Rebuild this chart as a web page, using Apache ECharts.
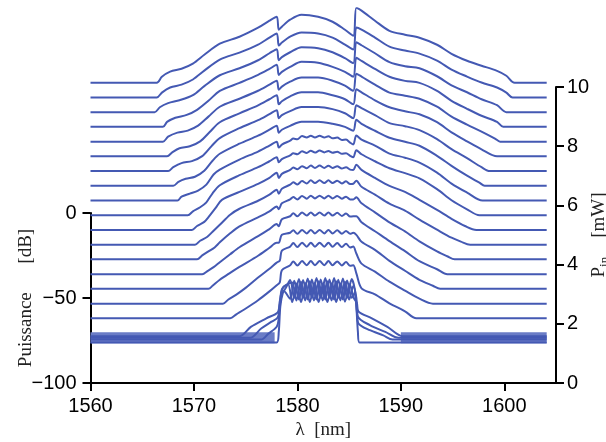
<!DOCTYPE html>
<html><head><meta charset="utf-8">
<script src="https://cdn.jsdelivr.net/npm/echarts@6/dist/echarts.min.js"></script>
<style>html,body{margin:0;padding:0;background:#fff}#c{width:606px;height:442px}</style>
</head><body><div id="c"></div>
<script>
// ---- tick labels ----
const xTicks = [1560, 1570, 1580, 1590, 1600];
const dbTicks = [-100, -50, 0];
const pinTicks = [0, 2, 4, 6, 8, 10];

// ---- baseline (floor) level of each offset spectrum, dB on left scale (bottom -> top) ----
const traceFloors = [-62.0, -53.4, -44.7, -36.1, -27.4, -18.8, -10.1, -1.5, 7.1, 15.8, 24.4, 33.1, 41.7, 50.4, 59.0, 67.6, 76.3];

// ---- spectra shapes: [wavelength nm, dB above own floor] ----
const spec0 = [[1560,0],[1573.5,0],[1574.1,2.3],[1574.9,5.3],[1576.2,10.6],[1577.3,15.8],[1578.0,19.4],[1578.3,21.1],[1578.5,28.2],[1579.3,31.1],[1579.6,33.4],[1580.0,31.0],[1580.45,33.6],[1580.9,31.2],[1581.3,33.6],[1581.7,31.2],[1582.15,33.6],[1582.6,31.2],[1583.0,33.6],[1583.4,31.2],[1583.85,33.4],[1584.3,31.0],[1584.7,33.0],[1585.1,30.8],[1585.4,31.1],[1585.7,26.4],[1586.2,17.6],[1587.5,14.1],[1588.9,8.8],[1590.4,4.1],[1591.5,0],[1604.1,0]];
const spec1 = [[1560,0],[1572.8,0],[1573.3,2.3],[1574.1,5.3],[1574.9,8.8],[1576.2,15.3],[1577.3,20.5],[1578.0,24.1],[1578.3,25.2],[1578.5,31.1],[1579.3,33.5],[1579.6,35.6],[1580.0,33.2],[1580.45,35.8],[1580.9,33.4],[1581.3,35.8],[1581.7,33.4],[1582.15,35.8],[1582.6,33.4],[1583.0,35.8],[1583.4,33.4],[1583.85,35.6],[1584.3,33.2],[1584.7,35.2],[1585.1,33.0],[1585.4,33.5],[1585.7,29.4],[1586.2,23.5],[1587.5,18.8],[1588.9,12.9],[1590.4,7.6],[1591.8,2.9],[1593.1,0],[1604.1,0]];
const spec2 = [[1560,0],[1571.4,0],[1571.8,1.8],[1572.5,5.3],[1573.5,9.4],[1574.4,12.9],[1576.2,19.4],[1577.3,24.1],[1578.0,27.0],[1578.2,27.0],[1578.5,31.7],[1579.3,32.9],[1579.6,34.4],[1580.0,32.3],[1580.45,34.6],[1580.9,32.5],[1581.3,34.6],[1581.7,32.5],[1582.15,34.6],[1582.6,32.5],[1583.0,34.6],[1583.4,32.5],[1583.85,34.4],[1584.3,32.3],[1584.7,34.0],[1585.1,32.3],[1585.4,32.9],[1585.7,31.7],[1586.2,27.6],[1587.5,22.9],[1588.9,16.4],[1590.4,10.6],[1591.8,5.3],[1593.1,1.8],[1593.8,0],[1604.1,0]];
const spec3 = [[1560,0],[1570.8,0],[1571.3,1.8],[1571.9,4.1],[1572.5,7.0],[1573.5,11.7],[1574.4,15.8],[1576.2,22.3],[1577.3,26.4],[1578.0,29.4],[1578.2,28.2],[1578.5,32.3],[1579.3,34.0],[1579.6,35.8],[1580.0,34.0],[1580.45,36.2],[1580.9,34.4],[1581.3,36.2],[1581.7,34.4],[1582.15,36.2],[1582.6,34.4],[1583.0,36.2],[1583.4,34.4],[1583.85,36.0],[1584.3,34.2],[1584.7,35.6],[1585.1,33.8],[1585.4,34.0],[1585.7,34.0],[1586.2,30.5],[1587.5,25.2],[1588.9,19.4],[1590.4,13.5],[1591.8,7.6],[1593.5,2.9],[1594.5,0],[1604.1,0]];
const spec4 = [[1560,0],[1570.3,0],[1570.8,2.3],[1571.4,4.7],[1572.0,7.0],[1572.5,10.0],[1573.5,15.3],[1574.4,19.4],[1576.2,24.7],[1577.3,28.2],[1578.0,31.1],[1578.2,29.4],[1578.5,32.9],[1579.3,35.2],[1579.6,36.6],[1580.0,35.2],[1580.45,37.2],[1580.9,35.6],[1581.3,37.4],[1581.7,35.8],[1582.15,37.4],[1582.6,35.8],[1583.0,37.4],[1583.4,35.8],[1583.85,37.2],[1584.3,35.6],[1584.7,36.8],[1585.1,35.2],[1585.4,35.2],[1585.7,36.4],[1586.2,32.9],[1587.5,27.6],[1588.9,21.7],[1590.4,16.4],[1591.8,10.6],[1593.5,4.7],[1594.5,1.8],[1595.2,0],[1604.1,0]];
const spec5 = [[1560,0],[1570.1,0],[1570.6,2.3],[1571.3,4.7],[1571.9,8.2],[1572.5,11.7],[1573.5,17.6],[1574.4,21.1],[1576.2,25.8],[1577.3,29.4],[1578.0,32.3],[1578.2,29.9],[1578.5,32.9],[1579.3,35.2],[1579.6,36.6],[1580.0,35.4],[1580.45,37.4],[1580.9,36.0],[1581.3,37.8],[1581.7,36.2],[1582.15,37.8],[1582.6,36.2],[1583.0,37.8],[1583.4,36.2],[1583.85,37.6],[1584.3,36.0],[1584.7,37.2],[1585.1,35.6],[1585.4,35.8],[1585.7,37.6],[1586.2,34.0],[1587.5,29.4],[1588.9,24.1],[1590.4,20.0],[1591.8,14.7],[1593.5,8.8],[1594.9,4.1],[1595.8,1.8],[1596.7,0],[1604.1,0]];
const spec6 = [[1560,0],[1569.8,0],[1570.3,2.3],[1571.0,4.7],[1571.5,8.2],[1572.1,12.9],[1572.7,17.6],[1574.4,22.3],[1576.2,27.0],[1577.3,30.5],[1578.0,33.5],[1578.2,30.5],[1578.5,32.9],[1579.3,35.2],[1579.6,36.6],[1580.0,35.6],[1580.45,37.4],[1580.9,36.2],[1581.3,37.8],[1581.7,36.4],[1582.15,37.8],[1582.6,36.4],[1583.0,37.7],[1583.4,36.3],[1583.85,37.4],[1584.3,36.0],[1584.7,36.8],[1585.1,35.4],[1585.4,35.2],[1585.7,38.2],[1586.2,35.2],[1587.5,30.5],[1588.9,25.8],[1590.4,22.3],[1591.8,17.6],[1593.5,11.7],[1594.9,6.5],[1596.2,2.3],[1597.3,0],[1604.1,0]];
const spec7 = [[1560,0],[1569.4,0],[1569.9,2.3],[1570.6,4.7],[1571.2,7.6],[1571.8,12.9],[1572.5,17.6],[1574.4,23.5],[1576.2,28.2],[1577.3,31.7],[1578.0,34.0],[1578.2,31.1],[1578.5,32.9],[1579.3,35.2],[1579.6,36.4],[1580.0,35.8],[1580.45,37.6],[1580.9,36.6],[1581.3,37.9],[1581.7,36.8],[1582.15,38.0],[1582.6,36.9],[1583.0,37.7],[1583.4,36.7],[1583.85,37.3],[1584.3,36.1],[1584.7,36.4],[1585.1,34.9],[1585.4,34.0],[1585.7,38.2],[1586.2,35.8],[1587.5,31.7],[1588.9,27.6],[1590.4,24.7],[1591.8,21.7],[1593.5,15.3],[1594.9,8.8],[1596.4,3.5],[1597.6,0],[1604.1,0]];
const spec8 = [[1560,0],[1568.4,0],[1568.8,2.3],[1569.6,4.1],[1570.4,5.9],[1571.2,9.4],[1571.9,15.3],[1572.5,18.2],[1574.4,24.1],[1576.2,28.8],[1577.3,32.3],[1578.0,34.6],[1578.2,31.1],[1578.5,32.9],[1579.3,35.2],[1579.6,36.4],[1580.0,36.0],[1580.45,37.9],[1580.9,37.1],[1581.3,38.1],[1581.7,37.1],[1582.15,38.1],[1582.6,37.0],[1583.0,37.8],[1583.4,36.6],[1583.85,37.0],[1584.3,35.6],[1584.7,35.8],[1585.1,34.0],[1585.4,32.9],[1585.7,38.2],[1586.2,35.8],[1587.5,32.3],[1588.9,27.6],[1590.4,25.2],[1591.8,22.3],[1593.5,16.4],[1594.9,10.0],[1596.4,4.7],[1597.9,0],[1604.1,0]];
const spec9 = [[1560,0],[1568.0,0],[1568.5,2.3],[1569.2,4.1],[1570.1,5.3],[1571.0,8.8],[1571.8,14.7],[1572.5,18.8],[1574.4,24.7],[1576.2,29.4],[1577.3,32.9],[1578.0,35.2],[1578.2,31.1],[1578.5,32.9],[1579.3,35.2],[1580.4,37.6],[1582.0,37.6],[1583.4,36.4],[1584.6,34.6],[1585.4,32.3],[1585.7,38.7],[1586.2,36.4],[1587.5,32.3],[1588.9,28.2],[1590.4,25.8],[1591.8,23.5],[1593.5,17.6],[1594.9,11.7],[1596.4,5.9],[1597.6,1.8],[1598.1,0],[1604.1,0]];
const spec10 = [[1560,0],[1567.5,0],[1568.0,2.3],[1568.8,4.7],[1569.8,5.9],[1570.8,8.8],[1571.7,14.7],[1572.5,19.4],[1574.4,25.2],[1576.2,29.9],[1577.3,33.5],[1578.0,35.8],[1578.2,31.1],[1578.5,32.9],[1579.3,35.2],[1580.4,37.6],[1582.0,37.6],[1583.4,36.4],[1584.6,34.0],[1585.4,31.1],[1585.7,38.7],[1586.2,37.0],[1587.5,32.9],[1588.9,28.2],[1590.4,26.4],[1591.8,24.1],[1593.5,18.8],[1594.9,12.9],[1596.4,7.6],[1597.8,2.3],[1598.6,0],[1604.1,0]];
const spec11 = [[1560,0],[1567.4,0],[1567.9,2.3],[1568.6,4.7],[1569.6,5.9],[1570.6,8.8],[1571.5,14.1],[1572.5,20.0],[1574.4,25.2],[1576.2,29.9],[1577.3,33.5],[1578.0,35.8],[1578.2,30.5],[1578.5,32.3],[1579.3,35.2],[1580.4,37.6],[1582.0,37.6],[1583.4,35.8],[1584.6,33.5],[1585.4,30.5],[1585.7,39.3],[1586.2,37.6],[1587.5,32.9],[1588.9,28.8],[1590.4,26.4],[1591.8,24.7],[1593.5,20.0],[1594.9,14.1],[1596.4,8.8],[1597.8,4.1],[1599.3,0],[1604.1,0]];
const spec12 = [[1560,0],[1567.0,0],[1567.5,2.9],[1568.4,5.3],[1569.4,6.5],[1570.4,9.4],[1571.4,14.7],[1572.5,20.5],[1574.4,25.2],[1576.2,29.9],[1577.3,33.5],[1578.0,35.8],[1578.2,30.5],[1578.5,32.3],[1579.3,35.2],[1580.4,37.6],[1582.0,37.6],[1583.4,35.8],[1584.6,32.9],[1585.4,29.9],[1585.7,39.9],[1586.2,38.2],[1587.5,33.5],[1588.9,28.8],[1590.4,27.0],[1591.8,25.2],[1593.5,20.5],[1594.9,14.7],[1596.4,10.0],[1597.8,5.9],[1599.1,1.8],[1599.6,0],[1604.1,0]];
const spec13 = [[1560,0],[1567.0,0],[1567.4,2.9],[1568.2,5.3],[1569.3,7.0],[1570.3,10.0],[1571.4,15.3],[1572.5,21.1],[1574.4,25.8],[1576.2,30.5],[1577.3,34.0],[1578.0,36.4],[1578.2,30.5],[1578.5,32.3],[1579.3,35.2],[1580.4,38.2],[1582.0,37.6],[1583.4,35.2],[1584.6,32.3],[1585.4,29.4],[1585.7,40.5],[1586.2,38.7],[1587.5,34.0],[1588.9,29.4],[1590.4,27.0],[1591.8,25.8],[1593.5,21.1],[1594.9,15.3],[1596.4,10.6],[1597.8,6.5],[1599.3,2.9],[1599.9,0],[1604.1,0]];
const spec14 = [[1560,0],[1566.2,0],[1566.7,2.9],[1567.5,5.3],[1568.6,7.0],[1569.9,10.0],[1571.0,15.3],[1572.5,21.7],[1574.4,25.8],[1576.2,30.5],[1577.3,34.6],[1578.0,37.0],[1578.2,30.5],[1578.5,32.3],[1579.3,35.2],[1580.4,38.2],[1582.0,37.6],[1583.4,35.2],[1584.6,31.7],[1585.4,28.8],[1585.7,41.1],[1586.2,39.3],[1587.5,34.6],[1588.9,29.4],[1590.4,27.0],[1591.8,25.8],[1593.5,21.1],[1594.9,15.8],[1596.4,11.7],[1597.8,7.6],[1599.3,4.1],[1600.2,0],[1604.1,0]];
const spec15 = [[1560,0],[1566.4,0],[1566.9,2.9],[1567.7,5.9],[1568.8,7.6],[1569.9,10.6],[1571.0,15.8],[1572.5,22.3],[1574.4,26.4],[1576.2,31.1],[1577.3,35.2],[1578.0,37.6],[1578.2,30.5],[1578.5,32.3],[1579.3,35.8],[1580.4,38.2],[1582.0,37.6],[1583.4,35.2],[1584.6,31.1],[1585.4,28.2],[1585.7,41.1],[1586.2,39.9],[1587.5,35.2],[1588.9,29.9],[1590.4,27.6],[1591.8,25.8],[1593.5,21.7],[1594.9,16.4],[1596.4,12.3],[1597.8,8.8],[1599.3,5.9],[1600.2,2.9],[1600.8,0],[1604.1,0]];
const spec16 = [[1560,0],[1566.4,0],[1566.9,3.5],[1567.7,6.5],[1568.8,8.2],[1569.9,11.2],[1571.0,16.4],[1572.5,22.9],[1574.4,27.0],[1576.2,32.3],[1577.3,36.4],[1578.0,38.7],[1578.2,31.1],[1578.5,32.9],[1579.3,37.0],[1580.4,39.9],[1582.0,38.7],[1583.4,35.8],[1584.6,31.1],[1585.4,27.6],[1585.7,44.0],[1586.2,42.3],[1587.5,36.4],[1588.9,30.5],[1590.4,28.2],[1591.8,26.4],[1593.5,22.3],[1594.9,17.0],[1596.4,12.9],[1597.8,10.0],[1599.3,7.0],[1600.2,4.1],[1601.0,0],[1604.1,0]];
const offsetSpectra = [spec0,spec1,spec2,spec3,spec4,spec5,spec6,spec7,spec8,spec9,spec10,spec11,spec12,spec13,spec14,spec15,spec16];

// ---- low-power spectra (not offset), absolute dB ----
const low0 = [[1560,-76.2],[1578.0,-76.2],[1578.2,-70],[1578.35,-55],[1578.6,-47],[1578.9,-44],[1579.3,-39.5],[1579.7,-50],[1580.15,-39],[1580.55,-50],[1581.0,-38.6],[1581.4,-50],[1581.85,-38.4],[1582.25,-50],[1582.7,-38.4],[1583.1,-50],[1583.55,-38.4],[1583.95,-50],[1584.4,-38.6],[1584.8,-50],[1585.25,-39],[1585.55,-45],[1585.7,-55],[1585.85,-70],[1586.0,-76.2],[1604.1,-76.2]];
const low1 = [[1560,-74.5],[1576.5,-74.5],[1577.2,-71],[1578.0,-67],[1578.2,-62],[1578.35,-52],[1578.7,-46],[1579.3,-50.5],[1579.7,-40],[1580.15,-51],[1580.55,-39.5],[1581.0,-51],[1581.4,-39.2],[1581.85,-51],[1582.25,-39.2],[1582.7,-51],[1583.1,-39.2],[1583.55,-51],[1583.95,-39.4],[1584.4,-51],[1584.8,-39.8],[1585.25,-50],[1585.55,-47],[1585.75,-58],[1585.9,-65],[1587.0,-69],[1588.3,-72],[1589.2,-74.5],[1604.1,-74.5]];
const low2 = [[1560,-73.5],[1575.4,-73.5],[1576.5,-68],[1577.5,-64],[1578.1,-61.5],[1578.3,-54],[1578.5,-45],[1579.05,-42],[1579.5,-41],[1579.9,-51.5],[1580.35,-40.5],[1580.75,-51.5],[1581.2,-40.2],[1581.6,-51.5],[1582.05,-40.2],[1582.45,-51.5],[1582.9,-40.2],[1583.3,-51.5],[1583.75,-40.2],[1584.15,-51.5],[1584.6,-40.5],[1585.0,-51],[1585.4,-43],[1585.7,-50],[1585.85,-61],[1587.0,-66],[1588.5,-70],[1589.8,-73.5],[1604.1,-73.5]];
const low3 = [[1560,-72.5],[1574.4,-72.5],[1575.5,-67],[1577.0,-62],[1578.1,-58.5],[1578.3,-52],[1578.6,-44],[1579.1,-42],[1579.5,-52.5],[1579.95,-41.5],[1580.35,-52.5],[1580.8,-41.3],[1581.2,-52.5],[1581.65,-41.3],[1582.05,-52.5],[1582.5,-41.3],[1582.9,-52.5],[1583.35,-41.3],[1583.75,-52.5],[1584.2,-41.5],[1584.6,-52.3],[1585.05,-42],[1585.45,-50],[1585.75,-53],[1585.9,-58],[1587.2,-62],[1588.7,-67],[1590.2,-72.5],[1604.1,-72.5]];
const lowSpectra = [low0, low1, low2, low3];
// noise floor band of the low-power spectra
const noiseLeft = [[1560,-73.4],[1577.8,-73.4]];
const noiseRight = [[1590.0,-73.4],[1604.1,-73.4]];

const LINE = '#4459b3';
const series = [];
offsetSpectra.forEach((s, j) => {
  series.push({type:'line', xAxisIndex:0, yAxisIndex:0, showSymbol:false, smooth:0.3, animation:false,
    lineStyle:{color:LINE, width:2}, data: s.map(p => [p[0], traceFloors[j] + p[1]])});
});
[noiseLeft, noiseRight].forEach(s => series.push({type:'line', xAxisIndex:0, yAxisIndex:0, showSymbol:false, animation:false,
  lineStyle:{color:'#6a7cc6', width:11, cap:'butt'}, data:s}));
lowSpectra.forEach(s => series.push({type:'line', xAxisIndex:0, yAxisIndex:0, showSymbol:false, smooth:0.3, animation:false,
  lineStyle:{color:LINE, width:2}, data:s}));

const chart = echarts.init(document.getElementById('c'), null, {renderer:'canvas'});
const lab = {color:'#000', fontFamily:'Liberation Sans, Arial, sans-serif', fontSize:20};
const ttl = {color:'#222', fontFamily:'Liberation Serif, Times New Roman, serif', fontSize:19};
const g = {left:90.5, right:50, bottom:59, outerBoundsMode:'none', containLabel:false};
chart.setOption({
  backgroundColor:'#fff',
  animation:false,
  grid:[
    Object.assign({top:8.3}, g),
    Object.assign({top:213}, g),
    Object.assign({top:87}, g)
  ],
  xAxis:[
    {gridIndex:0, type:'value', min:1560, max:1605, splitLine:{show:false},
     axisLine:{onZero:false, lineStyle:{color:'#000', width:2}},
     axisTick:{customValues:xTicks, length:8, lineStyle:{color:'#000', width:2}},
     axisLabel:Object.assign({customValues:xTicks, margin:13, formatter:v => String(v)}, lab),
     name:'\u03bb\u2002[nm]', nameLocation:'middle', nameGap:38, nameMoveOverlap:false, nameTextStyle:ttl},
    {gridIndex:1, type:'value', min:1560, max:1605, show:false},
    {gridIndex:2, type:'value', min:1560, max:1605, show:false}
  ],
  yAxis:[
    {gridIndex:0, type:'value', min:-100, max:120, show:false},
    {gridIndex:1, type:'value', min:-100, max:0, interval:50, splitLine:{show:false},
     axisLine:{show:true, onZero:false, lineStyle:{color:'#000', width:2}},
     axisTick:{show:true, length:8, lineStyle:{color:'#000', width:2}},
     axisLabel:Object.assign({margin:14, formatter:v => String(v).replace('-', '\u2212')}, lab),
     name:'Puissance\u2003\u2002[dB]', nameLocation:'middle', nameGap:55, nameRotate:90, nameMoveOverlap:false, nameTextStyle:ttl},
    {gridIndex:2, type:'value', position:'right', min:0, max:10, interval:2, splitLine:{show:false},
     axisLine:{show:true, onZero:false, lineStyle:{color:'#000', width:2}},
     axisTick:{show:true, length:8, lineStyle:{color:'#000', width:2}},
     axisLabel:Object.assign({margin:11}, lab),
     name:'{a|P}{b|in}{a|\u2003[mW]}', nameLocation:'middle', nameGap:32, nameRotate:90, nameMoveOverlap:false,
     nameTextStyle:Object.assign({}, ttl, {rich:{
       a:{fontFamily:'Liberation Serif, serif', fontSize:19, color:'#222', verticalAlign:'middle'},
       b:{fontFamily:'Liberation Serif, serif', fontSize:13, color:'#222', verticalAlign:'middle', padding:[10,0,0,0]}
     }})}
  ],
  series: series
});
</script></body></html>
